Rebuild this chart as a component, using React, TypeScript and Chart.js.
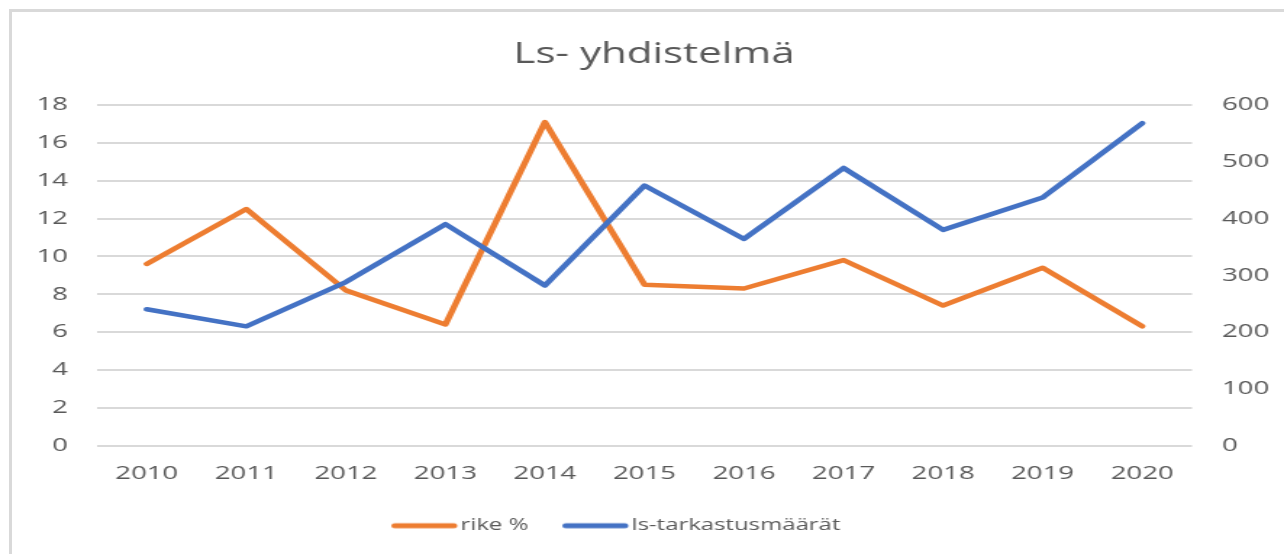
import React, { useEffect, useRef } from "react";
import { Chart, registerables } from "chart.js";

Chart.register(...registerables);

const years = ["2010", "2011", "2012", "2013", "2014", "2015", "2016", "2017", "2018", "2019", "2020"];
const rikePct = [9.6, 12.5, 8.2, 6.4, 17.1, 8.5, 8.3, 9.8, 7.4, 9.4, 6.3];
const lsTarkastus = [240, 210, 288, 390, 282, 458, 364, 489, 380, 437, 568];
const titleText = "Ls- yhdistelmä";
const seriesNames = ["rike %", "ls-tarkastusmäärät"];
const seriesColors = ["#ED7D31", "#4472C4"];

const SCALE_X = 1.4492;
const CANVAS_W = 886;
const CANVAS_H = 554;
const FONT = "'Open Sans', 'Noto Sans', sans-serif";
const TEXT = "#595959";

function legendSwatch(color: string): HTMLCanvasElement {
  const c = document.createElement("canvas");
  c.width = 60;
  c.height = 10;
  const ctx = c.getContext("2d");
  if (ctx) {
    ctx.strokeStyle = color;
    ctx.lineWidth = 5;
    ctx.lineCap = "round";
    ctx.beginPath();
    ctx.moveTo(15.5, 5);
    ctx.lineTo(56, 5);
    ctx.stroke();
  }
  return c;
}

const shiftPlugin = {
  id: "shiftBoxes",
  afterLayout(chart: any) {
    const t = chart.titleBlock;
    if (t) {
      t.left += 8.3;
      t.right += 8.3;
    }
    const l = chart.legend;
    if (l) {
      l.left -= 20.8;
      l.right -= 20.8;
    }
  },
};

export default function App() {
  const ref = useRef<HTMLCanvasElement | null>(null);

  useEffect(() => {
    if (!ref.current) return;
    const chart = new Chart(ref.current, {
      type: "line",
      data: {
        labels: years,
        datasets: [
          {
            label: seriesNames[0],
            data: rikePct,
            borderColor: seriesColors[0],
            backgroundColor: seriesColors[0],
            borderWidth: 4.5,
            pointRadius: 0,
            pointHoverRadius: 0,
            pointStyle: legendSwatch(seriesColors[0]) as any,
            borderCapStyle: "round",
            borderJoinStyle: "round",
            tension: 0,
            yAxisID: "y",
            order: 1,
          },
          {
            label: seriesNames[1],
            data: lsTarkastus,
            borderColor: seriesColors[1],
            backgroundColor: seriesColors[1],
            borderWidth: 4.5,
            pointRadius: 0,
            pointHoverRadius: 0,
            pointStyle: legendSwatch(seriesColors[1]) as any,
            borderCapStyle: "round",
            borderJoinStyle: "round",
            tension: 0,
            yAxisID: "y1",
            order: 0,
          },
        ],
      },
      options: {
        animation: false,
        responsive: true,
        maintainAspectRatio: false,
        layout: { padding: { left: 0, right: 0, top: 0, bottom: 10 } },
        plugins: {
          tooltip: { enabled: false },
          title: {
            display: true,
            text: titleText,
            color: TEXT,
            font: { family: FONT, size: 29, weight: "normal" },
            padding: { top: 37.6, bottom: 32.6 },
          },
          legend: {
            display: true,
            position: "bottom",
            labels: {
              color: TEXT,
              font: { family: FONT, size: 16.5 },
              usePointStyle: true,
              pointStyleWidth: 45,
              padding: 18,
              sort: (a: any, b: any) => a.datasetIndex - b.datasetIndex,
            },
          },
        },
        scales: {
          x: {
            offset: true,
            grid: { display: false, drawTicks: false },
            border: { display: false },
            ticks: {
              color: TEXT,
              font: { family: FONT, size: 19 },
              padding: 17,
              maxRotation: 0,
            },
            afterFit: (s: any) => {
              s.height = 54;
            },
          },
          y: {
            position: "left",
            min: 0,
            max: 18,
            ticks: {
              stepSize: 2,
              color: TEXT,
              font: { family: FONT, size: 19 },
              padding: 20,
            },
            grid: { color: "#d9d9d9", lineWidth: 2, drawTicks: false },
            border: { display: false },
            afterFit: (s: any) => {
              s.width = 66.9;
            },
          },
          y1: {
            position: "right",
            min: 0,
            max: 600,
            ticks: {
              stepSize: 100,
              color: TEXT,
              font: { family: FONT, size: 19 },
              padding: 20.7,
            },
            grid: { display: false, drawTicks: false },
            border: { display: false },
            afterFit: (s: any) => {
              s.width = 63.5;
            },
          },
        },
      },
      plugins: [shiftPlugin],
    });
    return () => chart.destroy();
  }, []);

  return (
    <div style={{ position: "fixed", left: 0, top: 0, width: 1284, height: 554, background: "#fff", overflow: "hidden" }}>
      <div
        style={{
          position: "absolute",
          left: 9,
          top: 9,
          width: 1400,
          height: 700,
          borderTop: "3px solid #d9d9d9",
          borderLeft: "3px solid #d9d9d9",
        }}
      />
      <div
        style={{
          position: "absolute",
          left: 0,
          top: 0,
          width: CANVAS_W,
          height: CANVAS_H,
          transform: `scaleX(${SCALE_X})`,
          transformOrigin: "0 0",
        }}
      >
        <canvas ref={ref} />
      </div>
    </div>
  );
}
